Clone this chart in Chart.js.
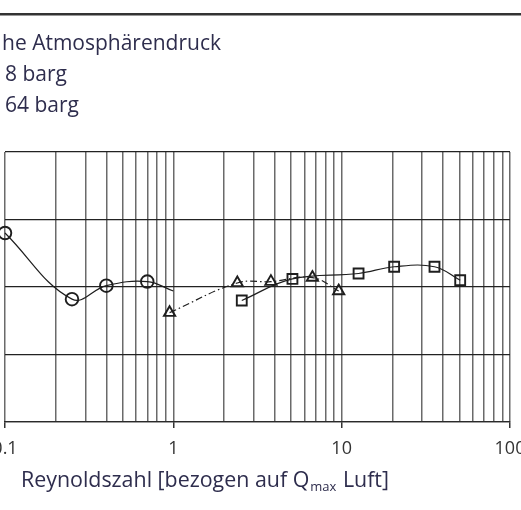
<!DOCTYPE html>
<html><head><meta charset="utf-8">
<script src="https://cdn.jsdelivr.net/npm/chart.js@4.4.1/dist/chart.umd.min.js"></script>
<style>html,body{margin:0;padding:0;background:#fff;overflow:hidden}
#wrap{position:relative;width:521px;height:510px}
canvas{display:block}
</style></head><body><div id="wrap"><canvas id="c" width="521" height="510"></canvas></div>
<script>
// ---- data ----
const airX = [0.1, 0.25, 0.4, 0.7, 1.0];
const airY = [0.40, -0.09, 0.01, 0.04, -0.03];
const gas8X = [0.95, 2.4, 3.8, 6.7, 9.6];
const gas8Y = [-0.19, 0.03, 0.04, 0.07, -0.03];
const gas64X = [2.55, 5.1, 12.6, 20.5, 35.6, 50.6];
const gas64Y = [-0.10, 0.06, 0.10, 0.15, 0.15, 0.05];
const legendLabels = ["he Atmosphärendruck", "8 barg", "64 barg"];
const xTickValues = [0.1,0.2,0.3,0.4,0.5,0.6,0.7,0.8,0.9,1,2,3,4,5,6,7,8,9,10,20,30,40,50,60,70,80,90,100];
const xMajorValues = [0.1, 1, 10, 100];
const xTickLabels = ["0.1", "1", "10", "100"];
const xTitleParts = ["Reynoldszahl [bezogen auf Q", "max", " Luft]"];

const FONT = "'Open Sans', sans-serif";
const TEXT = '#2e2d4d';
const LINE = '#1e1e1e';

function pts(xs, ys){ return xs.map((x,i)=>({x:x, y:ys[i]})); }
function majorIndex(v){ return xMajorValues.findIndex(m => Math.abs(m - v) < 1e-9); }

const decor = {
  id: 'decor',
  afterDraw(chart){
    const ctx = chart.ctx;
    ctx.save();
    // top rule
    ctx.fillStyle = '#333';
    ctx.fillRect(0, 13, chart.width, 2.5);
    // legend texts
    ctx.fillStyle = TEXT;
    ctx.textBaseline = 'alphabetic';
    ctx.textAlign = 'left';
    ctx.font = "21px " + FONT;
    const lx = [2, 5, 5], ly = [49.5, 80.5, 111.5];
    legendLabels.forEach((t,i)=> ctx.fillText(t, lx[i], ly[i]));
    // x axis title with subscript
    let x = 21; const y = 487;
    ctx.font = "21.4px " + FONT;
    ctx.fillText(xTitleParts[0], x, y); x += ctx.measureText(xTitleParts[0]).width + 1;
    ctx.font = "13px " + FONT;
    ctx.fillText(xTitleParts[1], x, y + 4); x += ctx.measureText(xTitleParts[1]).width + 1;
    ctx.font = "21.4px " + FONT;
    ctx.fillText(xTitleParts[2], x, y);
    ctx.restore();
  }
};

new Chart(document.getElementById('c'), {
  type: 'scatter',
  data: { datasets: [
    { label: legendLabels[0], data: pts(airX, airY), showLine: true, tension: 0.4, clip: false,
      borderColor: LINE, borderWidth: 1.2, pointStyle: 'circle', pointRadius: [6.3,6.3,6.3,6.3,0],
      pointBorderWidth: 1.9, pointBorderColor: LINE, pointBackgroundColor: 'rgba(0,0,0,0)' },
    { label: legendLabels[1], data: pts(gas8X, gas8Y), showLine: true, tension: 0.4, clip: false,
      borderColor: LINE, borderWidth: 1.2, borderDash: [7,3,1.5,3], pointStyle: 'triangle', pointRadius: 6.5,
      pointBorderWidth: 1.9, pointBorderColor: LINE, pointBackgroundColor: 'rgba(0,0,0,0)' },
    { label: legendLabels[2], data: pts(gas64X, gas64Y), showLine: true, tension: 0.4, clip: false,
      borderColor: LINE, borderWidth: 1.2, pointStyle: 'rect', pointRadius: 7,
      pointBorderWidth: 1.9, pointBorderColor: LINE, pointBackgroundColor: 'rgba(0,0,0,0)' }
  ]},
  options: {
    responsive: false, animation: false, devicePixelRatio: 1,
    layout: { autoPadding: false, padding: { left: 5, right: 11, top: 152, bottom: 0 } },
    plugins: { legend: { display: false }, tooltip: { enabled: false }, title: { display: false } },
    scales: {
      x: {
        type: 'logarithmic', min: 0.1, max: 100,
        afterBuildTicks: s => { s.ticks = xTickValues.map(v => ({ value: v })); },
        afterFit: s => { s.height = 88; s.paddingLeft = 0; s.paddingRight = 0; },
        ticks: { autoSkip: false, maxRotation: 0, minRotation: 0, padding: 10, color: '#333',
          font: { family: FONT, size: 18 },
          callback: v => { const i = majorIndex(v); return i >= 0 ? xTickLabels[i] : ''; } },
        grid: { color: '#6a6a6a', lineWidth: 1.5, tickLength: 6,
          tickColor: c => (c.tick && majorIndex(c.tick.value) >= 0) ? '#333' : 'rgba(0,0,0,0)' },
        border: { color: '#2a2a2a', width: 1.3 }
      },
      y: {
        min: -1, max: 1,
        ticks: { stepSize: 0.5, display: false },
        afterFit: s => { s.width = 0; },
        grid: { color: '#222', lineWidth: 1.3, drawTicks: false },
        border: { display: false }
      }
    }
  },
  plugins: [decor]
});
</script></body></html>
